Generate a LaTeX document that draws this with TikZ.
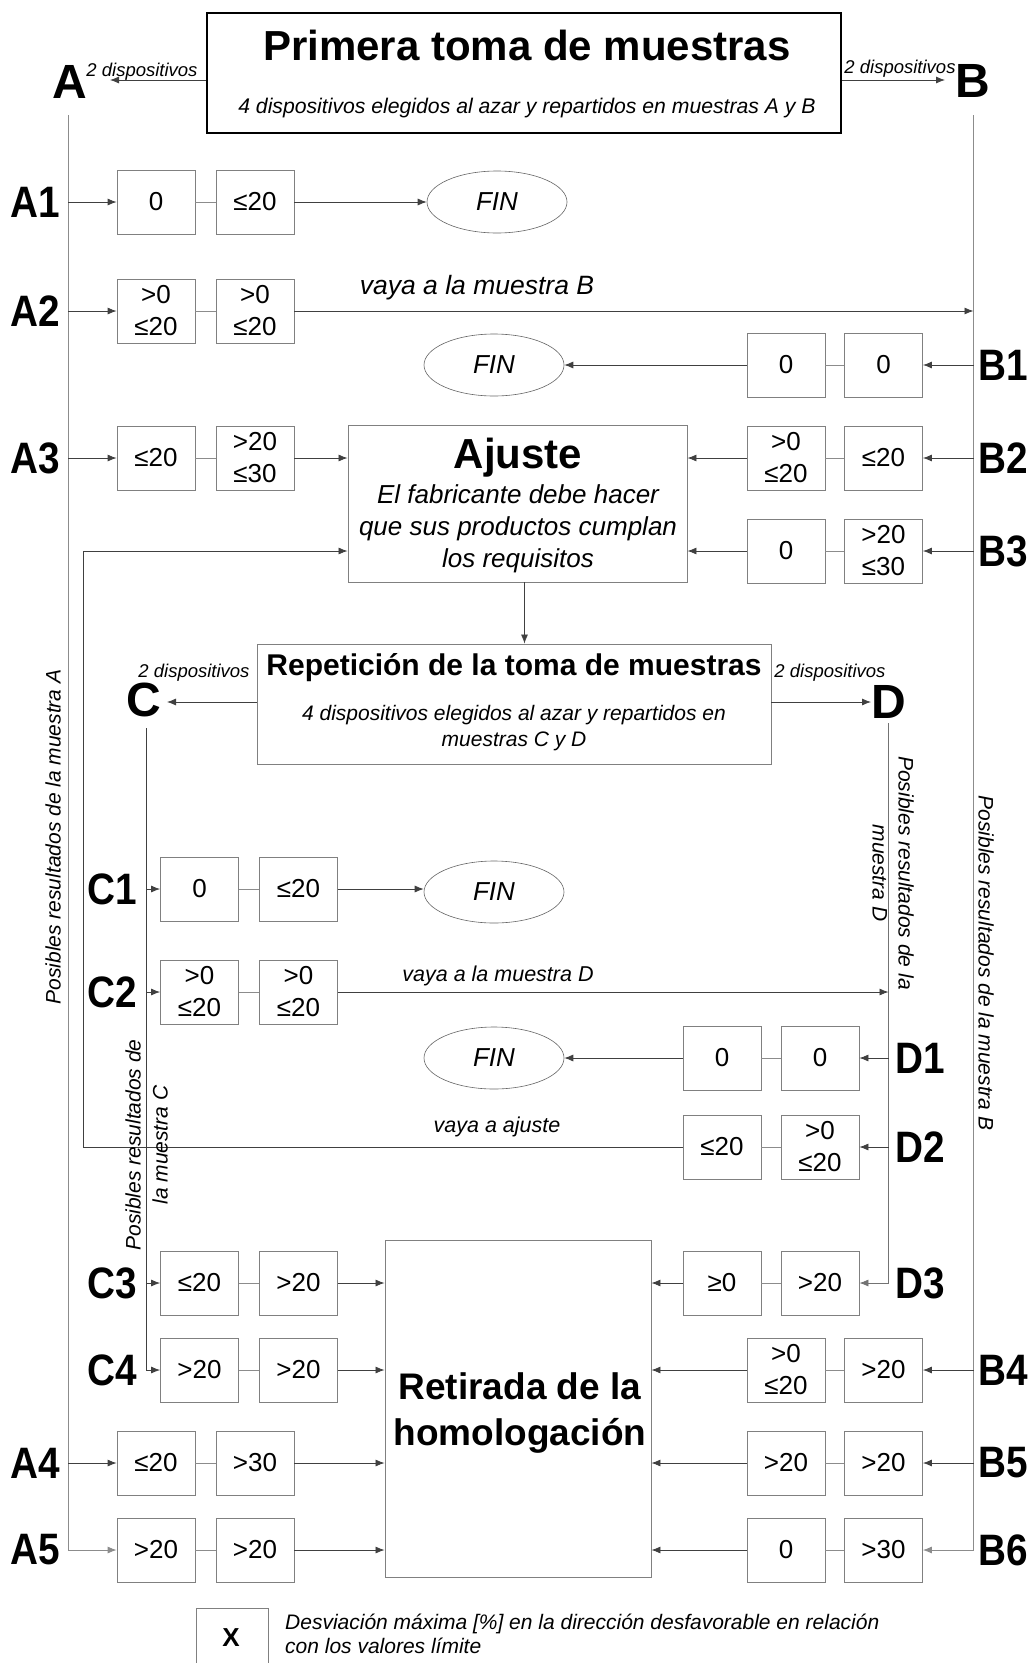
\documentclass[tikz,border=0pt]{standalone}
\usepackage{fontspec}
\setmainfont{Liberation Sans}
\newfontfamily\lblfont[FakeStretch=0.88]{Liberation Sans}
\usetikzlibrary{arrows.meta,shapes.geometric}
\begin{document}
\begin{tikzpicture}[x=1pt,y=-1pt,
  vbox/.style={draw=black!50, line width=0.8pt, minimum width=78pt, minimum height=64pt,
    inner sep=1pt, align=center, font=\fontsize{26}{32}\selectfont},
  finnode/.style={ellipse, draw=black!60, line width=0.6pt, minimum width=140pt,
    minimum height=62pt, inner sep=0pt, font=\fontsize{26}{30}\selectfont\itshape},
  conn/.style={draw=black!75, line width=0.8pt},
  arr/.style={conn, -{Latex[length=9pt,width=7pt]}},
  link/.style={draw=black!45, line width=0.9pt},
  rowlbl/.style={font=\lblfont\fontsize{44}{44}\selectfont\bfseries, inner sep=0pt},
  bigl/.style={font=\fontsize{48}{48}\selectfont\bfseries, inner sep=2pt},
  note/.style={font=\fontsize{21}{26}\selectfont\itshape, inner sep=0pt},
  disp/.style={font=\fontsize{18.5}{20}\selectfont\itshape, inner sep=0pt},
  bigbox/.style={draw=black!50, line width=0.9pt, inner sep=0pt}
]
\useasboundingbox[fill=white] (0,0) rectangle (1032,1663);

% ---------- top box ----------
\node[draw=black, line width=2.5pt, minimum width=634pt, minimum height=120pt, inner sep=0pt] (top) at (524,73) {};
\node[font=\fontsize{42}{42}\selectfont\bfseries] (toptitle) at (527,45.5) {Primera toma de muestras};
\node[note, font=\fontsize{21.2}{26}\selectfont\itshape] (topsub) at (527,108) {4 dispositivos elegidos al azar y repartidos en muestras A y B};

\node[bigl] (A) at (70,82) {A};
\node[bigl] (B) at (972.5,81) {B};
\node[disp] (dispA) at (142,72) {2 dispositivos};
\node[disp] (dispB) at (900,69) {2 dispositivos};
\coordinate (aTip) at (110,80);
\coordinate (bTip) at (945,80);
\draw[arr] (top.west |- aTip) -- (aTip);
\draw[arr] (top.east |- bTip) -- (bTip);

\coordinate (atop) at (68,115);
\coordinate (btop) at (973.5,115);

% ---------- Ajuste ----------
\node[bigbox, minimum width=339pt, minimum height=157pt] (ajuste) at (517.5,503.5) {};
\node[font=\fontsize{42}{42}\selectfont\bfseries] (ajt) at (518,458) {Ajuste};
\node[font=\fontsize{26}{32}\selectfont\itshape, align=center, inner sep=0pt] (ajb) at (518,529)
  {El fabricante debe hacer\\que sus productos cumplan\\los requisitos};

% ---------- Repeticion ----------
\node[bigbox, minimum width=514pt, minimum height=120pt] (rep) at (514,704) {};
\node[font=\fontsize{30}{30}\selectfont\bfseries] (rept) at (514,668) {Repetición de la toma de muestras};
\node[note, align=center] (repsub) at (514,728) {4 dispositivos elegidos al azar y repartidos en\\muestras C y D};
\node[bigl] (C) at (144,700) {C};
\node[bigl] (D) at (889,702) {D};
\node[disp] (dispC) at (194,673) {2 dispositivos};
\node[disp] (dispD) at (830,673) {2 dispositivos};
\coordinate (cTip) at (167,702);
\coordinate (dTip) at (871,702);
\draw[arr] (rep.west |- cTip) -- (cTip);
\draw[arr] (rep.east |- dTip) -- (dTip);
\draw[arr] ([xshift=7pt]ajuste.south) -- ([xshift=7pt]ajuste.south |- rep.north);

\coordinate (ctop) at (146,728);
\coordinate (dtop) at (888.5,723);

% ---------- Retirada ----------
\node[bigbox, minimum width=266pt, minimum height=337pt] (ret) at (518,1408.5) {};
\node[font=\fontsize{37}{46}\selectfont\bfseries, align=center, inner sep=0pt] (rett) at (520,1413)
  {Retirada de la\\homologación};

% ---------- FIN ellipses ----------
\node[finnode] (fin1) at (497,202) {FIN};
\node[finnode] (fin2) at (494,365) {FIN};
\node[finnode] (fin3) at (494,892) {FIN};
\node[finnode] (fin4) at (494,1058) {FIN};

% ---------- value boxes ----------
\node[vbox] (a1a) at (156,202) {0};
\node[vbox] (a1b) at (255,202) {≤20};
\node[vbox] (a2a) at (156,311) {>0\\≤20};
\node[vbox] (a2b) at (255,311) {>0\\≤20};
\node[vbox] (b1a) at (786,365) {0};
\node[vbox] (b1b) at (883.5,365) {0};
\node[vbox] (a3a) at (156,458) {≤20};
\node[vbox] (a3b) at (255,458) {>20\\≤30};
\node[vbox] (b2a) at (786,458) {>0\\≤20};
\node[vbox] (b2b) at (883.5,458) {≤20};
\node[vbox] (b3a) at (786,551) {0};
\node[vbox] (b3b) at (883.5,551) {>20\\≤30};
\node[vbox] (c1a) at (199.5,889) {0};
\node[vbox] (c1b) at (298.5,889) {≤20};
\node[vbox] (c2a) at (199.5,992) {>0\\≤20};
\node[vbox] (c2b) at (298.5,992) {>0\\≤20};
\node[vbox] (d1a) at (722,1058) {0};
\node[vbox] (d1b) at (820,1058) {0};
\node[vbox] (d2a) at (722,1147) {≤20};
\node[vbox] (d2b) at (820,1147) {>0\\≤20};
\node[vbox] (c3a) at (199.5,1283) {≤20};
\node[vbox] (c3b) at (298.5,1283) {>20};
\node[vbox] (d3a) at (722,1283) {≥0};
\node[vbox] (d3b) at (820,1283) {>20};
\node[vbox] (c4a) at (199.5,1370) {>20};
\node[vbox] (c4b) at (298.5,1370) {>20};
\node[vbox] (b4a) at (786,1370) {>0\\≤20};
\node[vbox] (b4b) at (883.5,1370) {>20};
\node[vbox] (a4a) at (156,1463) {≤20};
\node[vbox] (a4b) at (255,1463) {>30};
\node[vbox] (b5a) at (786,1463) {>20};
\node[vbox] (b5b) at (883.5,1463) {>20};
\node[vbox] (a5a) at (156,1550) {>20};
\node[vbox] (a5b) at (255,1550) {>20};
\node[vbox] (b6a) at (786,1550) {0};
\node[vbox] (b6b) at (883.5,1550) {>30};

\foreach \p/\q in {a1a/a1b,a2a/a2b,b1a/b1b,a3a/a3b,b2a/b2b,b3a/b3b,c1a/c1b,c2a/c2b,
  d1a/d1b,d2a/d2b,c3a/c3b,d3a/d3b,c4a/c4b,b4a/b4b,a4a/a4b,b5a/b5b,a5a/a5b,b6a/b6b}
  \draw[link] (\p) -- (\q);

% ---------- row labels ----------
\node[rowlbl] (lA1) at (35,202) {A1};
\node[rowlbl] (lA2) at (35,311) {A2};
\node[rowlbl] (lA3) at (35,458) {A3};
\node[rowlbl] (lA4) at (35,1463) {A4};
\node[rowlbl] (lA5) at (35,1550) {A5};
\node[rowlbl] (lB1) at (1003,365) {B1};
\node[rowlbl] (lB2) at (1003,458) {B2};
\node[rowlbl] (lB3) at (1003,551) {B3};
\node[rowlbl] (lB4) at (1003,1370) {B4};
\node[rowlbl] (lB5) at (1003,1463) {B5};
\node[rowlbl] (lB6) at (1003,1550) {B6};
\node[rowlbl] (lC1) at (112,889) {C1};
\node[rowlbl] (lC2) at (112,992) {C2};
\node[rowlbl] (lC3) at (112,1283) {C3};
\node[rowlbl] (lC4) at (112,1370) {C4};
\node[rowlbl] (lD1) at (920,1058) {D1};
\node[rowlbl] (lD2) at (920,1147) {D2};
\node[rowlbl] (lD3) at (920,1283) {D3};

% ---------- vertical sample lines ----------
\draw[arr, draw=black!45] (atop) -- (atop |- a5a) -- (a5a.west);
\foreach \n in {a1a,a2a,a3a,a4a} \draw[arr] (atop |- \n) -- (\n.west);
\draw[arr, draw=black!45] (btop) -- (btop |- b6b) -- (b6b.east);
\foreach \n in {b1b,b2b,b3b,b4b,b5b} \draw[arr] (btop |- \n) -- (\n.east);
\draw[arr] (ctop) -- (ctop |- c4a) -- (c4a.west);
\foreach \n in {c1a,c2a,c3a} \draw[arr] (ctop |- \n) -- (\n.west);
\draw[arr, draw=black!55] (dtop) -- (dtop |- d3b) -- (d3b.east);
\foreach \n in {d1b,d2b} \draw[arr] (dtop |- \n) -- (\n.east);

% ---------- outgoing connectors ----------
\draw[arr] (a1b.east) -- (a1b.east -| fin1.west);
\draw[arr] (a2b.east) -- (btop |- a2b);
\draw[arr] (b1a.west) -- (b1a.west -| fin2.east);
\draw[arr] (a3b.east) -- (a3b.east -| ajuste.west);
\draw[arr] (b2a.west) -- (b2a.west -| ajuste.east);
\draw[arr] (b3a.west) -- (b3a.west -| ajuste.east);
\draw[arr] (c1b.east) -- (c1b.east -| fin3.west);
\draw[arr] (c2b.east) -- (dtop |- c2b);
\draw[arr] (d1a.west) -- (d1a.west -| fin4.east);
\coordinate (loopA) at (83,1147);
\coordinate (loopB) at (83,551);
\draw[arr] (d2a.west) -- (loopA) -- (loopB) -- (loopB -| ajuste.west);
\draw[arr] (d3a.west) -- (d3a.west -| ret.east);
\draw[arr] (c3b.east) -- (c3b.east -| ret.west);
\draw[arr] (c4b.east) -- (c4b.east -| ret.west);
\draw[arr] (a4b.east) -- (a4b.east -| ret.west);
\draw[arr] (a5b.east) -- (a5b.east -| ret.west);
\draw[arr] (b4a.west) -- (b4a.west -| ret.east);
\draw[arr] (b5a.west) -- (b5a.west -| ret.east);
\draw[arr] (b6a.west) -- (b6a.west -| ret.east);

% ---------- texts on connectors ----------
\node[font=\fontsize{26.5}{30}\selectfont\itshape, inner sep=0pt] (vB) at (477,288) {vaya a la muestra B};
\node[font=\fontsize{21.5}{24}\selectfont\itshape, inner sep=0pt] (vD) at (498,976) {vaya a la muestra D};
\node[note, font=\fontsize{21.5}{24}\selectfont\itshape] (vAj) at (497,1127) {vaya a ajuste};

% ---------- vertical captions ----------
\node[note, rotate=90] (capA) at (53,837) {Posibles resultados de la muestra A};
\node[note, rotate=-90] (capB) at (986,963) {Posibles resultados de la muestra B};
\node[note, rotate=-90, align=center] (capD) at (893,873) {Posibles resultados de la\\muestra D};
\node[note, rotate=90, align=center, font=\fontsize{21}{27}\selectfont\itshape] (capC) at (146.5,1145) {Posibles resultados de\\la muestra C};

% ---------- legend ----------
\node[vbox, minimum width=72pt, minimum height=72pt, anchor=north] (leg) at (232,1608) {};
\node[font=\fontsize{26}{26}\selectfont\bfseries] (legx) at (231,1638) {X};
\node[note, anchor=west, align=left, font=\fontsize{21}{24}\selectfont\itshape] (legt) at (285,1634)
  {Desviación máxima [\%] en la dirección desfavorable en relación\\con los valores límite};
\end{tikzpicture}
\end{document}
